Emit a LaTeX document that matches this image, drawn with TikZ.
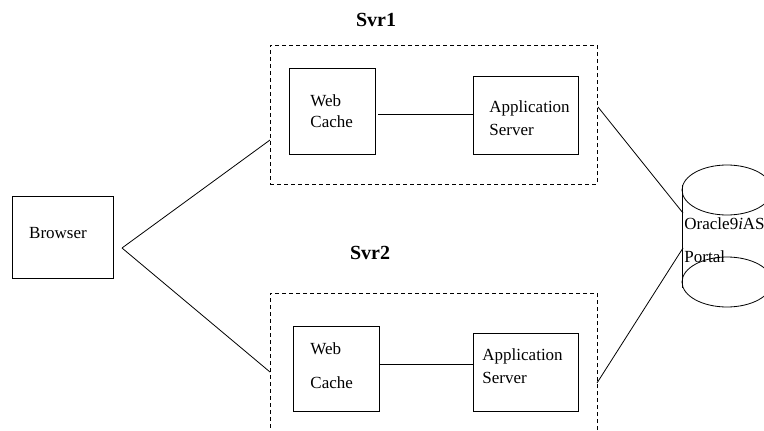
\documentclass[tikz,border=0pt]{standalone}
\usepackage{fontspec}
\setmainfont{Liberation Serif}
\begin{document}
\begin{tikzpicture}[x=1pt,y=-1pt,
  line width=0.9pt,
  box/.style={draw, rectangle, inner sep=0pt, minimum width=#1},
  grp/.style={draw, dash pattern=on 4pt off 3pt, rectangle, inner sep=0pt},
  lbl/.style={inner sep=0pt, anchor=west, font=\fontsize{17}{20}\selectfont},
  ttl/.style={inner sep=0pt, font=\fontsize{20}{24}\selectfont\bfseries},
  conn/.style={draw, line width=0.8pt}]
\useasboundingbox (0,0) rectangle (764,431);

% titles
\node[ttl] (t1) at (376,20) {Svr1};
\node[ttl] (t2) at (370,253) {Svr2};

% browser
\node[box=101pt, minimum height=82pt] (br) at (62.5,237) {};
\node[lbl, anchor=center] (brl) at (58,233) {Browser};
\coordinate (bj) at (122,248);

% server groups
\node[grp, minimum width=327pt, minimum height=139pt] (svr1) at (433.5,114.5) {};
\node[grp, minimum width=327pt, minimum height=160pt] (svr2) at (433.5,373) {};

% Svr1 contents
\node[box=86pt, minimum height=86pt] (wc1) at (332,111) {};
\node[lbl] (wc1a) at (310,101) {Web};
\node[lbl] (wc1b) at (310,122) {Cache};
\node[box=105pt, minimum height=78pt] (as1) at (525.5,115) {};
\node[lbl] (as1a) at (489,108) {Application};
\node[lbl] (as1b) at (489,130) {Server};
\coordinate (c1) at (0,114);
\draw[conn] ([xshift=3pt]wc1.east |- c1) -- (as1.west |- c1);

% Svr2 contents
\node[box=86pt, minimum height=85pt] (wc2) at (336,368.5) {};
\node[lbl] (wc2a) at (310,349) {Web};
\node[lbl] (wc2b) at (310,383) {Cache};
\node[box=105pt, minimum height=78pt] (as2) at (525.5,372) {};
\node[lbl] (as2a) at (482,356) {Application};
\node[lbl] (as2b) at (482,378) {Server};
\coordinate (c2) at (0,364);
\draw[conn] (wc2.east |- c2) -- (as2.west |- c2);

% database cylinder
\draw[line width=0.8pt] (727,190) ellipse [x radius=45, y radius=25];
\draw[line width=0.8pt] (727,282) ellipse [x radius=45, y radius=25];
\draw[line width=0.9pt] (682,185) -- (682,288);
\node[lbl] (db1) at (684,224) {Oracle9\textit{i}AS};
\node[lbl] (db2) at (684,257) {Portal};

% connectors
\coordinate (s1in) at (270,140);
\coordinate (s2in) at (270,372);
\coordinate (s1out) at (598,107);
\coordinate (s2out) at (597,383);
\coordinate (dbin1) at (683,213);
\coordinate (dbin2) at (683,248);
\draw[conn] (bj) -- (s1in);
\draw[conn] (bj) -- (s2in);
\draw[conn] (s1out) -- (dbin1);
\draw[conn] (s2out) -- (dbin2);
\end{tikzpicture}
\end{document}
